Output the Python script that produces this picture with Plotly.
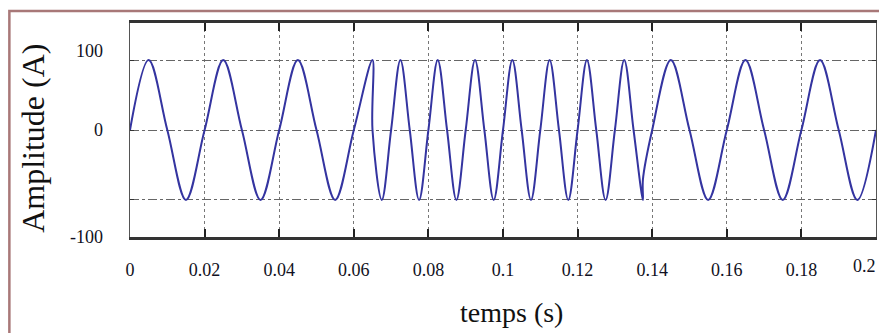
import plotly.graph_objects as go

# Key points of the current waveform: time (s), amplitude (A)
t_seg1 = [0.0, 0.005, 0.010, 0.015, 0.020, 0.025, 0.030, 0.035, 0.040, 0.045,
          0.050, 0.055, 0.060, 0.065]
y_seg1 = [0, 100, 0, -100, 0, 100, 0, -100, 0, 100, 0, -100, 0, 100]

t_seg2 = [0.06501, 0.0675, 0.070, 0.0725, 0.075, 0.0775, 0.080, 0.0825, 0.085, 0.0875,
          0.090, 0.0925, 0.095, 0.0975, 0.100, 0.1025, 0.105, 0.1075, 0.110, 0.1125,
          0.115, 0.1175, 0.120, 0.1225, 0.125, 0.1275, 0.130, 0.1325, 0.135, 0.1375]
y_seg2 = [0, -100, 0, 100, 0, -100, 0, 100, 0, -100,
          0, 100, 0, -100, 0, 100, 0, -100, 0, 100,
          0, -100, 0, 100, 0, -100, 0, 100, 0, -100]

t_seg3 = [0.13751, 0.140, 0.145, 0.150, 0.155, 0.160, 0.165, 0.170, 0.175, 0.180,
          0.185, 0.190, 0.195, 0.200]
y_seg3 = [-71, 0, 100, 0, -100, 0, 100, 0, -100, 0, 100, 0, -100, 0]

x_ticks = [0, 0.02, 0.04, 0.06, 0.08, 0.1, 0.12, 0.14, 0.16, 0.18, 0.2]
x_ticktext = ["0", "0.02", "0.04", "0.06", "0.08", "0.1", "0.12", "0.14", "0.16", "0.18", "0.2"]
y_grid = [-100, 0, 100]
y_label_pos = [113, 0, -153]
y_label_text = ["100", "0", "-100"]

t_all = t_seg1 + t_seg2 + t_seg3
y_all = y_seg1 + y_seg2 + y_seg3

fig = go.Figure()
fig.add_trace(go.Scatter(
    x=t_all, y=y_all, mode="lines",
    line=dict(color="#3434a0", width=2, shape="spline", smoothing=1.0),
    showlegend=False, hoverinfo="skip",
))
# invisible trace to activate label axis
fig.add_trace(go.Scatter(x=[0], y=[0], yaxis="y2", mode="markers",
                         marker=dict(opacity=0), showlegend=False, hoverinfo="skip"))

serif = "Liberation Serif, Times New Roman, serif"

annotations = [
    dict(text="Amplitude (A)", xref="paper", yref="paper",
         x=-0.131, y=0.46, xanchor="center", yanchor="middle",
         textangle=-90, showarrow=False,
         font=dict(size=32, family=serif, color="#111")),
    dict(text="temps (s)", xref="paper", yref="paper",
         x=0.512, y=-0.355, xanchor="center", yanchor="middle",
         showarrow=False, font=dict(size=28, family=serif, color="#111")),
]
# last x tick label, pulled inside the window edge
annotations.append(dict(text=x_ticktext[-1], xref="x", yref="paper",
                        x=x_ticks[-1], y=-0.137, xanchor="right", yanchor="middle",
                        xshift=2, showarrow=False,
                        font=dict(size=18, family=serif, color="#111122")))

fig.update_layout(
    width=879, height=333,
    margin=dict(l=130, r=3, t=23, b=96),
    paper_bgcolor="white", plot_bgcolor="white",
    font=dict(family=serif, color="#111122"),
    xaxis=dict(
        range=[0, 0.2], tickvals=x_ticks[:-1], ticktext=x_ticktext[:-1],
        ticks="inside", ticklen=8, tickwidth=1.5, tickcolor="#222",
        mirror="ticks", showline=True, linecolor="#333", linewidth=2.5,
        showgrid=True, gridcolor="#777", griddash="dot", gridwidth=1,
        zeroline=False, tickfont=dict(size=18, family=serif),
        ticklabelstandoff=15,
    ),
    yaxis=dict(
        range=[-153, 153], tickvals=y_grid, showticklabels=False,
        ticks="inside", ticklen=4, tickcolor="#333",
        mirror="ticks", showline=True, linecolor="#555", linewidth=1.2,
        showgrid=True, gridcolor="#666", griddash="dashdot", gridwidth=1,
        zeroline=False,
    ),
    yaxis2=dict(
        range=[-153, 153], overlaying="y", side="left",
        tickvals=y_label_pos, ticktext=y_label_text,
        ticks="", showgrid=False, showline=False, zeroline=False,
        tickfont=dict(size=18, family=serif), ticklabelstandoff=26,
    ),
    annotations=annotations,
    shapes=[
        dict(type="rect", xref="paper", yref="paper",
             x0=-0.1617, x1=1.01, y0=-0.6, y1=1.056,
             line=dict(color="#a87878", width=2.5), layer="below"),
    ],
)

fig.write_html("out.html")
